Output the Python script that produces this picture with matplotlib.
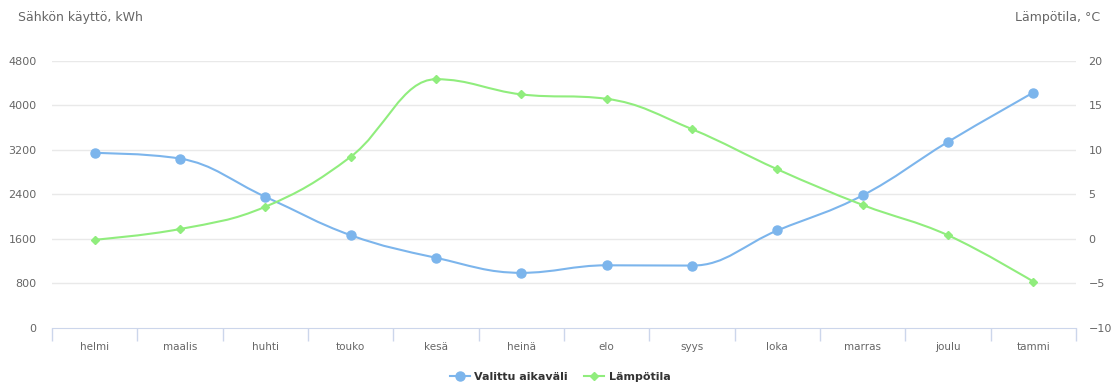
import numpy as np
import matplotlib
matplotlib.use("Agg")
import matplotlib.pyplot as plt
from matplotlib.path import Path
from matplotlib.patches import PathPatch
from matplotlib.lines import Line2D

months = ["helmi", "maalis", "huhti", "touko", "kesä", "heinä",
          "elo", "syys", "loka", "marras", "joulu", "tammi"]
usage_kwh = [3140, 3040, 2355, 1665, 1260, 990, 1125, 1120, 1750, 2380, 3340, 4225]
temperature = [-0.1, 1.1, 3.6, 9.2, 17.9, 16.2, 15.7, 12.3, 7.8, 3.8, 0.4, -4.8]

left_ticks = [0, 800, 1600, 2400, 3200, 4000, 4800]
right_ticks = [-10, -5, 0, 5, 10, 15, 20]

BLUE = "#7cb5ec"
GREEN = "#90ed7d"
LABEL = "#666666"


def spline_path(xs, ys, smoothing=1.5):
    """Cubic bezier path through the points, smoothed the same way as a
    typical web chart spline (control points clamped to avoid overshoot)."""
    n = len(xs)
    denom = smoothing + 1
    ctrl = []
    for i in range(n):
        x, y = xs[i], ys[i]
        if 0 < i < n - 1:
            lx, ly = xs[i - 1], ys[i - 1]
            nx, ny = xs[i + 1], ys[i + 1]
            lcx = (smoothing * x + lx) / denom
            lcy = (smoothing * y + ly) / denom
            rcx = (smoothing * x + nx) / denom
            rcy = (smoothing * y + ny) / denom
            corr = ((rcy - lcy) * (rcx - x)) / (rcx - lcx) + y - rcy
            lcy += corr
            rcy += corr
            if lcy > ly and lcy > y:
                lcy = max(ly, y)
                rcy = 2 * y - lcy
            elif lcy < ly and lcy < y:
                lcy = min(ly, y)
                rcy = 2 * y - lcy
            if rcy > ny and rcy > y:
                rcy = max(ny, y)
                lcy = 2 * y - rcy
            elif rcy < ny and rcy < y:
                rcy = min(ny, y)
                lcy = 2 * y - rcy
            ctrl.append(((lcx, lcy), (rcx, rcy)))
        else:
            ctrl.append(((x, y), (x, y)))
    verts = [(xs[0], ys[0])]
    codes = [Path.MOVETO]
    for i in range(1, n):
        verts += [ctrl[i - 1][1], ctrl[i][0], (xs[i], ys[i])]
        codes += [Path.CURVE4] * 3
    return Path(verts, codes)


fig = plt.figure(figsize=(11.18, 3.85), dpi=100)
ax = fig.add_axes([52 / 1118, 57 / 385, 1024 / 1118, 267.5 / 385])
ax2 = ax.twinx()

x = np.arange(len(months))

ax.set_xlim(-0.5, len(months) - 0.5)
ax.set_ylim(0, 4800)
ax2.set_ylim(-10, 20)

# grid lines
for t in left_ticks[1:]:
    ax.axhline(t, color="#e9e9e9", lw=1, zorder=0)

ax.add_patch(PathPatch(spline_path(x, usage_kwh), fill=False,
                       edgecolor=BLUE, lw=1.5, zorder=3))
ax.plot(x, usage_kwh, "o", color=BLUE, ms=6.5, zorder=4)

ax2.add_patch(PathPatch(spline_path(x, temperature), fill=False,
                        edgecolor=GREEN, lw=1.5, zorder=3))
ax2.plot(x, temperature, "D", color=GREEN, ms=4.5, zorder=4)

for a in (ax, ax2):
    for s in a.spines.values():
        s.set_visible(False)
ax.spines["bottom"].set_visible(True)
ax.spines["bottom"].set_color("#ccd6eb")

ax.set_yticks(left_ticks)
ax.set_yticklabels([str(t) for t in left_ticks])
ax2.set_yticks(right_ticks)
ax2.set_yticklabels([str(t).replace("-", "\u2212") for t in right_ticks])
ax.tick_params(axis="y", length=0, pad=11, labelsize=8, labelcolor=LABEL)
ax2.tick_params(axis="y", length=0, pad=9, labelsize=8, labelcolor=LABEL)

ax.set_xticks(x)
ax.set_xticklabels(months)
ax.set_xticks(np.arange(-0.5, len(months)), minor=True)
ax.tick_params(axis="x", which="major", length=0, pad=10, labelsize=7.5,
               labelcolor=LABEL)
ax.tick_params(axis="x", which="minor", length=9, width=1, color="#ccd6eb")

fig.text(18 / 1118, 1 - 18 / 385, "Sähkön käyttö, kWh", fontsize=9,
         color=LABEL, va="center", ha="left")
fig.text(1100 / 1118, 1 - 18 / 385, "Lämpötila, °C", fontsize=9,
         color=LABEL, va="center", ha="right")

handles = [
    Line2D([], [], color=BLUE, lw=1.5, marker="o", ms=6.5),
    Line2D([], [], color=GREEN, lw=1.5, marker="D", ms=4.5),
]
fig.legend(handles, ["Valittu aikaväli", "Lämpötila"], loc="center",
           bbox_to_anchor=(560 / 1118, 1 - 377 / 385), ncol=2, frameon=False,
           prop={"weight": "bold", "size": 8}, labelcolor="#333333",
           handlelength=1.8, columnspacing=1.5, handletextpad=0.4)

fig.savefig("out.png", dpi=100)
